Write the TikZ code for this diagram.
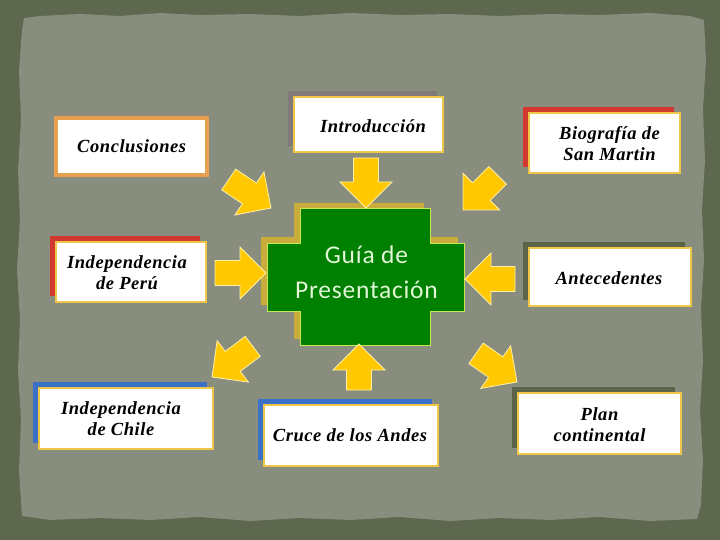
\documentclass[tikz,border=0pt]{standalone}
\usepackage{fontspec}
\setmainfont{Liberation Serif}
\newfontfamily\guiafont[LetterSpace=3]{Carlito}
\newfontfamily\boxfont[LetterSpace=3]{Liberation Serif}
\usetikzlibrary{shadows}
\definecolor{framecol}{RGB}{93,104,79}
\definecolor{papercol}{RGB}{136,141,126}
\definecolor{arrowyellow}{RGB}{255,200,0}
\definecolor{arrowedge}{RGB}{255,240,170}
\definecolor{boxgold}{RGB}{238,198,72}
\definecolor{conclorange}{RGB}{232,160,80}
\definecolor{shred}{RGB}{208,56,48}
\definecolor{shgray}{RGB}{128,122,120}
\definecolor{shblue}{RGB}{58,112,200}
\definecolor{sholive}{RGB}{92,99,70}
\definecolor{guiagreen}{RGB}{0,128,0}
\definecolor{guiaedge}{RGB}{200,230,80}
\definecolor{crossshadow}{RGB}{200,172,60}
\definecolor{guiatext}{RGB}{225,245,215}
\tikzset{
  card/.style={rectangle, draw=boxgold, line width=2pt, fill=white, inner sep=0pt},
  cardshadow/.style={general shadow={fill=#1, shadow xshift=-6pt, shadow yshift=6pt}},
  cardtext/.style={font=\boxfont\bfseries\itshape\fontsize{18.5}{21.5}\selectfont, text=black, align=center, inner sep=0pt},
  barrow/.style={fill=arrowyellow, draw=arrowedge, line width=0.8pt, line join=miter},
}
\newcommand{\blockarrow}[4]{\draw[barrow, shift={(#1,#2)}, rotate=#3] (0,0) -- (-26,26) -- (-26,12.5) -- (-#4,12.5) -- (-#4,-12.5) -- (-26,-12.5) -- (-26,-26) -- cycle;}
\newcommand{\crosspath}{(300,209) -- (430,209) -- (430,243) -- (464,243) -- (464,311) -- (430,311) -- (430,345) -- (300,345) -- (300,311) -- (267,311) -- (267,243) -- (300,243) -- cycle}
\newcommand{\paperpath}{(22,30) -- (24,18) -- (40,16) -- (80,14) -- (120,16) -- (160,13) -- (200,15) -- (250,14) -- (300,16) -- (350,13) -- (400,15) -- (450,14) -- (500,16) -- (550,14) -- (600,15) -- (650,13) -- (690,16) -- (704,20)
  -- (706,60) -- (703,110) -- (705,160) -- (702,210) -- (704,260) -- (701,310) -- (703,360) -- (700,410) -- (703,460) -- (701,505) -- (697,519)
  -- (650,521) -- (600,517) -- (550,520) -- (500,518) -- (450,521) -- (400,517) -- (350,520) -- (300,518) -- (250,521) -- (200,517) -- (150,520) -- (100,518) -- (50,520) -- (22,516)
  -- (19,470) -- (21,420) -- (18,370) -- (20,320) -- (17,270) -- (20,220) -- (18,170) -- (21,120) -- (19,70) -- cycle}
\begin{document}
\begin{tikzpicture}[x=1pt,y=-1pt]
\useasboundingbox (0,0) rectangle (720,540);
\fill[framecol] (0,0) rectangle (720,540);
% torn paper
\fill[papercol] \paperpath;

% boxes
\node[rectangle, draw=conclorange, line width=4pt, fill=white, minimum width=151pt, minimum height=57pt] (concl) at (131.75,146.5) {};
\node[card, cardshadow=shgray, minimum width=149pt, minimum height=55pt] (intro) at (368.25,124.1) {};
\node[card, cardshadow=shred, minimum width=151pt, minimum height=60pt] (bio) at (604.5,143) {};
\node[card, cardshadow=shred, minimum width=150pt, minimum height=60pt] (peru) at (131.25,272) {};
\node[card, cardshadow=sholive, minimum width=162pt, minimum height=58pt] (ante) at (610,277.25) {};
\node[card, cardshadow=shblue, minimum width=174pt, minimum height=61pt] (chile) at (126,418.5) {};
\node[card, cardshadow=shblue, minimum width=174pt, minimum height=61pt] (cruce) at (351,435.5) {};
\node[card, cardshadow=sholive, minimum width=163pt, minimum height=61pt] (plan) at (599.5,423.5) {};

% texts
\node[cardtext, anchor=base] (tconcl) at (131.7,153) {Conclusiones};
\node[cardtext, anchor=base] (tintro) at (373,132.6) {Introducción};
\node[cardtext] (tbio) at (609.5,143.5) {Biografía de\\San Martin};
\node[cardtext] (tperu) at (127,272.5) {Independencia\\de Perú};
\node[cardtext, anchor=base] (tante) at (609,284) {Antecedentes};
\node[cardtext] (tchile) at (121,418.5) {Independencia\\de Chile};
\node[cardtext, anchor=base] (tcruce) at (350,441.7) {Cruce de los Andes};
\node[cardtext] (tplan) at (599.5,424.5) {Plan\\continental};

% centre
\fill[crossshadow, shift={(-6,-6)}] \crosspath;
\draw[fill=guiagreen, draw=guiaedge, line width=1pt] \crosspath;
\node[font=\guiafont\fontsize{25.5}{35}\selectfont, text=guiatext, align=center, inner sep=0pt] (guia) at (366.5,272) {Guía de\\Presentación};

% arrows
\blockarrow{366}{208}{-90}{50}
\blockarrow{266}{273}{0}{51}
\blockarrow{465}{279}{180}{50}
\blockarrow{359}{344}{90}{46}
\blockarrow{271}{208}{-34}{51}
\blockarrow{463}{210}{-135}{49}
\blockarrow{212}{377}{-143}{51}
\blockarrow{517}{382}{-35}{50}
\end{tikzpicture}
\end{document}
